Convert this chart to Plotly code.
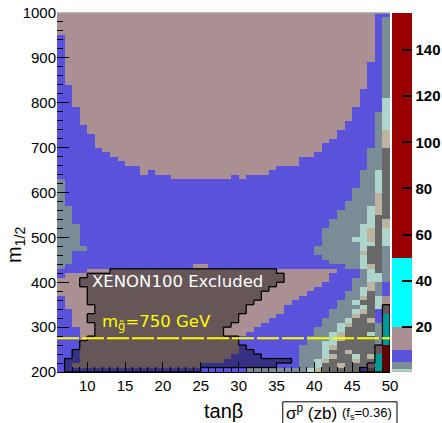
import plotly.graph_objects as go

# ---- grid: tan(beta) bins of width 1, m_1/2 bins of 10 GeV ----
TANB_EDGES = list(range(6, 51))          # 44 columns, 6..50
M12_EDGES = list(range(200, 1001, 10))   # 80 rows, 200..1000

# sigma^p bands (zb) and their colours
LEVELS = [0.5, 0.6, 1.0, 1.7, 5.0, 10.0, 20.0, 50.0, 156.0]
LEVEL_COLORS = ["#686868", "#bcb4a0", "#aed5cc", "#7a8d96",
                "#5a52da", "#aa8f93", "#00ffff", "#990000"]
BAND_VALUE = {"D": 0.55, "T": 0.8, "L": 1.35, "G": 3.0,
              "B": 7.0, "M": 15.0, "C": 35.0, "R": 100.0}

# run-length rows of sigma band, from m_1/2 = 990 (top) down to 200
SIGMA_ROWS = [
    "M42 B2",                                  # 990
    "M42 B1 G1", "M42 B1 G1", "M42 B1 G1", "M42 B1 G1",   # 980-950
    "B1 M41 B1 G1", "B1 M41 B1 G1", "B1 M41 B1 G1",
    "B1 M41 B1 G1", "B1 M41 B1 G1", "B1 M41 B1 G1",       # 940-890
    "B1 M40 B2 G1", "B1 M40 B2 G1", "B1 M40 B2 G1",
    "B1 M40 B2 G1", "B1 M40 B2 G1",                       # 880-840
    "B2 M39 B2 G1",                            # 830
    "B2 M38 B3 G1", "B2 M38 B3 G1",            # 820-810
    "B2 M38 B3 L1", "B2 M38 B3 L1",            # 800-790
    "B3 M36 B4 L1",                            # 780
    "B3 M36 B3 G1 L1", "B3 M36 B3 G1 L1",      # 770-760
    "B3 M35 B4 G1 L1",                         # 750
    "B4 M34 B4 G1 L1",                         # 740
    "B4 M33 B5 G1 T1",                         # 730
    "B5 M32 B5 G1 T1",                         # 720
    "B5 M31 B6 G1 T1",                         # 710
    "B5 M30 B7 G1 T1",                         # 700
    "B6 M29 B6 G2 D1",                         # 690
    "B7 M27 B7 G2 D1",                         # 680
    "B8 M24 B9 G2 D1",                         # 670
    "B9 M23 B9 G2 D1",                         # 660
    "B11 M18 B12 G2 D1",                       # 650
    "B11 M1 B1 M15 B12 G2 L1 D1",              # 640
    "B15 M8 B1 M1 B15 G2 L1 D1",               # 630
    "G1 B32 B7 G2 L1 D1",                      # 620
    "G1 B32 B7 G2 L1 D1",                      # 610
    "G1 B32 B6 G3 L1 D1",                      # 600
    "G1 B32 B6 G3 T1 D1",                      # 590
    "G1 B32 B6 G3 T1 D1",                      # 580
    "G1 B32 B5 G4 T1 D1",                      # 570
    "G2 B31 B5 G3 L1 T1 D1",                   # 560
    "G2 B31 B4 G4 L1 T1 D1",                   # 550
    "G2 B31 B4 G4 L1 D2",                      # 540
    "G2 B31 B3 G5 L1 D1 T1",                   # 530
    "G3 B30 B3 G4 L2 D1 T1",                   # 520
    "G3 B30 B2 G5 L1 T1 D1 L1",                # 510
    "G3 B30 B2 G5 L1 T1 D1 L1",                # 500
    "G3 B30 B2 G4 L2 T1 D1 L1",                # 490
    "G3 B30 B2 G5 L2 D1 L1",                   # 480
    "G4 B29 B1 G6 L1 D2 G1",                   # 470
    "G2 B31 B1 G6 T1 D2 G1",                   # 460
    "G2 B31 B2 G5 L1 D2 G1",                   # 450
    "G2 B31 B3 G4 L1 D2 G1",                   # 440
    "G1 B17 M2 B13 B5 G2 L1 T1 D1 G1",         # 430
    "B4 M29 M4 B3 G1 L1 D1 G1",                # 420
    "B1 M32 M3 B4 G1 L2 G1",                   # 410
    "M33 M3 B3 G2 L2 G1",                      # 400
    "M33 M2 B4 G2 T1 G1 B1",                   # 390
    "M33 M1 B5 G1 L1 T1 G1 B1",                # 380
    "M33 B5 G2 L1 D1 G1 B1",                   # 370
    "B1 M31 B1 B5 G2 T1 D1 L1 M1",             # 360
    "B1 M30 B2 B4 G2 L1 D2 L1 M1",             # 350
    "B1 M29 B3 B4 G3 L1 D1 L1 M1",             # 340
    "B2 M28 B3 B3 G3 L1 T1 D1 B1 M1",          # 330
    "B2 M27 B4 B3 G3 T1 D2 B1 C1",             # 320
    "B2 M26 B5 B2 G3 L1 D2 T1 B1 C1",          # 310
    "B2 M25 B6 B2 G2 L1 T1 D3 G1 C1",          # 300
    "B3 M23 B7 B1 G3 L1 D4 G1 C1",             # 290
    "B3 M22 B8 B1 G2 L1 T1 D3 L1 G1 C1",       # 280
    "B3 M21 B9 G3 L1 T1 D4 G1 C1",             # 270
    "B3 M21 B9 G2 L2 D5 G1 C1",                # 260
    "B3 M21 B8 G1 G2 L1 T1 D5 M1 R1",          # 250
    "B3 M21 B8 G1 G2 L1 D2 T1 D3 M1 R1",       # 240
    "B3 M20 B9 G1 G2 L1 T1 D2 L1 D1 T1 C1 R1", # 230
    "B3 M19 B10 G1 G1 L1 T1 D3 T1 D2 C1 R1",   # 220
    "B2 M17 B13 G1 G1 L1 D2 T1 D3 M1 C1 R1",   # 210
    "B25 G8 L1 T1 D5 B1 D1 C1 R1",             # 200
]

# XENON100-excluded tan(beta) spans per m_1/2 row (lower bin edge)
XENON_EXCLUDED = {
    420: [(13, 35)], 410: [(10, 36)], 400: [(9, 36)], 390: [(9, 35)],
    380: [(10, 34)], 370: [(10, 33)], 360: [(10, 33)], 350: [(10, 32)],
    340: [(11, 31), (49, 50)], 330: [(11, 31), (49, 50)],
    320: [(10, 30), (49, 50)], 310: [(10, 30), (49, 50)],
    300: [(11, 29), (49, 50)], 290: [(11, 28), (49, 50)],
    280: [(11, 28), (49, 50)], 270: [(10, 30), (49, 50)],
    260: [(9, 30), (49, 50)], 250: [(9, 31), (48, 50)],
    240: [(8, 32), (48, 50)], 230: [(8, 33), (48, 50)],
    220: [(7, 37), (48, 50)], 210: [(7, 35), (47, 50)],
    200: [(7, 25), (46, 50)],
}

GLUINO_LINE_M12 = 275   # m_1/2 giving m_gluino = 750 GeV

NCOL = len(TANB_EDGES) - 1
NROW = len(M12_EDGES) - 1


def expand(rle):
    out = []
    for tok in rle.split():
        out += [tok[0]] * int(tok[1:])
    assert len(out) == NCOL, (rle, len(out))
    return out


# z ordered from the lowest m_1/2 row upwards
rows_top_down = [expand(r) for r in SIGMA_ROWS]
assert len(rows_top_down) == NROW
z = [[BAND_VALUE[ch] for ch in row] for row in reversed(rows_top_down)]

excl = [[False] * NCOL for _ in range(NROW)]
for m, spans in XENON_EXCLUDED.items():
    r = (m - M12_EDGES[0]) // 10
    for lo, hi in spans:
        for c in range(lo - TANB_EDGES[0], hi - TANB_EDGES[0]):
            excl[r][c] = True
z_excl = [[1 if v else None for v in row] for row in excl]

# outline of the excluded cells
ox, oy = [], []
for r in range(NROW):
    for c in range(NCOL):
        if not excl[r][c]:
            continue
        x0, x1 = TANB_EDGES[c], TANB_EDGES[c + 1]
        y0, y1 = M12_EDGES[r], M12_EDGES[r + 1]
        if c == 0 or not excl[r][c - 1]:
            ox += [x0, x0, None]; oy += [y0, y1, None]
        if c == NCOL - 1 or not excl[r][c + 1]:
            ox += [x1, x1, None]; oy += [y0, y1, None]
        if r == 0 or not excl[r - 1][c]:
            ox += [x0, x1, None]; oy += [y0, y0, None]
        if r == NROW - 1 or not excl[r + 1][c]:
            ox += [x0, x1, None]; oy += [y1, y1, None]


def band_colorscale(levels, colors):
    lo, hi = levels[0], levels[-1]
    scale = []
    for i, col in enumerate(colors):
        a = (levels[i] - lo) / (hi - lo)
        b = (levels[i + 1] - lo) / (hi - lo)
        scale += [[a, col], [b, col]]
    return scale


TICK_FONT = dict(family="Liberation Sans", size=15, color="black")

fig = go.Figure()
fig.add_trace(go.Heatmap(
    x=TANB_EDGES, y=M12_EDGES, z=z,
    zmin=LEVELS[0], zmax=LEVELS[-1],
    colorscale=band_colorscale(LEVELS, LEVEL_COLORS),
    hoverinfo="skip",
    colorbar=dict(
        x=1.005, xanchor="left", xpad=0, ypad=0,
        y=0.5, yanchor="middle", len=1, lenmode="fraction",
        thickness=20, outlinewidth=0,
        tickmode="array", tickvals=[20, 40, 60, 80, 100, 120, 140],
        ticks="inside", ticklen=10, tickwidth=1.5, tickcolor="black",
        tickfont=dict(family="Liberation Sans", size=15, color="black",
                      weight="bold"),
    ),
))
fig.add_trace(go.Heatmap(
    x=TANB_EDGES, y=M12_EDGES, z=z_excl, zmin=0, zmax=1,
    colorscale=[[0, "black"], [1, "black"]], opacity=0.4,
    showscale=False, hoverinfo="skip",
))
fig.add_trace(go.Scatter(
    x=ox, y=oy, mode="lines", line=dict(color="black", width=1.3),
    hoverinfo="skip", showlegend=False,
))

fig.add_shape(type="line", xref="paper", x0=0, x1=1,
              y0=GLUINO_LINE_M12, y1=GLUINO_LINE_M12,
              line=dict(color="#ffff00", width=2, dash="22px,3px"))
fig.add_shape(type="line", xref="paper", yref="paper", x0=0, x1=1,
              y0=1, y1=1, line=dict(color="#a0a0a0", width=1.5))
fig.add_shape(type="rect", xref="paper", yref="paper",
              x0=0.678, x1=1.021, y0=-0.17, y1=-0.083,
              line=dict(color="black", width=1), fillcolor="white")

fig.add_annotation(x=10.4, y=401, text="XENON100 Excluded", showarrow=False,
                   xanchor="left", yanchor="middle",
                   font=dict(family="DejaVu Sans", size=16.5, color="white"))
fig.add_annotation(x=11.7, y=311, text="m<sub>g̃</sub>=750 GeV",
                   showarrow=False, xanchor="left", yanchor="middle",
                   font=dict(family="DejaVu Sans", size=16.5, color="#ffff00"))
fig.add_annotation(x=-0.123, y=0.354, xref="paper", yref="paper",
                   text="m<sub>1/2</sub>", textangle=-90, showarrow=False,
                   xanchor="center", yanchor="middle",
                   font=dict(family="Liberation Sans", size=20, color="black"))
fig.add_annotation(x=0.5015, y=-0.109, xref="paper", yref="paper",
                   text="tanβ", showarrow=False,
                   xanchor="center", yanchor="middle",
                   font=dict(family="Liberation Sans", size=20, color="black"))
fig.add_annotation(x=0.683, y=-0.112, xref="paper", yref="paper",
                   text="σ<sup>p</sup> (zb)", showarrow=False,
                   xanchor="left", yanchor="middle",
                   font=dict(family="Liberation Sans", size=17, color="black"))
fig.add_annotation(x=0.85, y=-0.115, xref="paper", yref="paper",
                   text="(f<sub>s</sub>=0.36)", showarrow=False,
                   xanchor="left", yanchor="middle",
                   font=dict(family="Liberation Sans", size=13, color="black"))

fig.update_xaxes(
    range=[6, 50], tickmode="linear", tick0=10, dtick=5,
    ticks="inside", ticklen=10, tickwidth=1, tickcolor="black",
    minor=dict(tick0=0, dtick=1, ticks="inside", ticklen=5,
               tickcolor="black", tickwidth=1),
    showline=True, linecolor="black", linewidth=1,
    showgrid=False, zeroline=False, tickfont=TICK_FONT,
)
fig.update_yaxes(
    range=[200, 1000], tickmode="linear", tick0=200, dtick=100,
    ticks="inside", ticklen=12, tickwidth=1.2, tickcolor="black",
    minor=dict(tick0=200, dtick=20, ticks="inside", ticklen=6,
               tickcolor="black", tickwidth=1),
    showline=False, showgrid=False, zeroline=False, tickfont=TICK_FONT,
)
fig.update_layout(
    width=442, height=423,
    margin=dict(l=57, r=52, t=13, b=51, pad=0, autoexpand=False),
    paper_bgcolor="white", plot_bgcolor="white",
    showlegend=False,
)

fig.write_html("out.html")
